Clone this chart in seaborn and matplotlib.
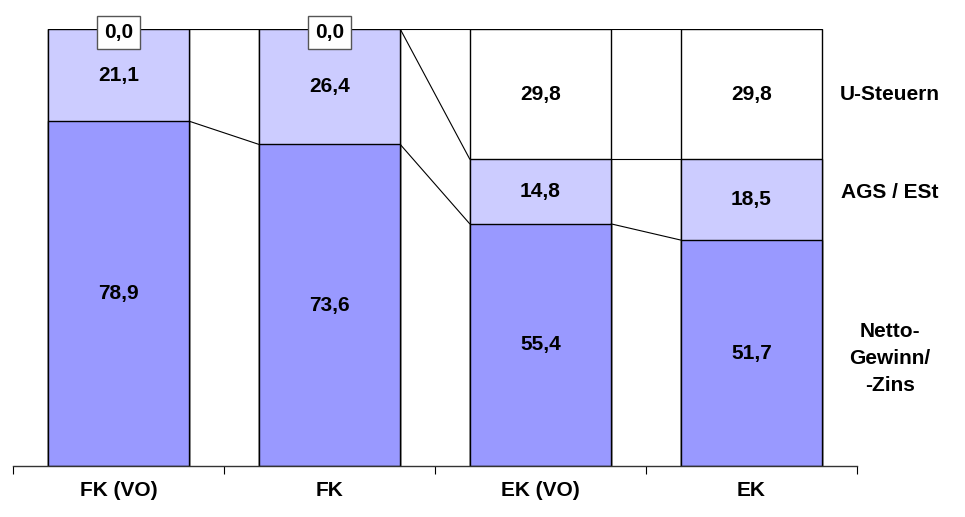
import matplotlib
matplotlib.use("Agg")
import matplotlib.pyplot as plt
import seaborn as sns
import pandas as pd

categories = ["FK (VO)", "FK", "EK (VO)", "EK"]
netto = [78.9, 73.6, 55.4, 51.7]
ags_est = [21.1, 26.4, 14.8, 18.5]
u_steuern = [0.0, 0.0, 29.8, 29.8]
series_names = ["U-Steuern", "AGS / ESt", "Netto-\nGewinn/\n-Zins"]

c_netto = "#9999FF"
c_ags = "#CCCCFF"
c_ust = "#FFFFFF"

sns.set_theme(style="white")
plt.rcParams["font.family"] = ["Liberation Sans", "DejaVu Sans"]
plt.rcParams["font.weight"] = "bold"
plt.rcParams["text.color"] = "black"

FS = 15

df = pd.DataFrame({"cat": categories, "netto": netto, "ags": ags_est, "ust": u_steuern})
df["lvl1"] = df["netto"]
df["lvl2"] = df["netto"] + df["ags"]
df["lvl3"] = df["lvl2"] + df["ust"]

fig = plt.figure(figsize=(9.65, 5.17), dpi=100)
ax = fig.add_axes([13 / 965, 51 / 517, 844 / 965, 437 / 517])

width = 0.67
# stacked bars, drawn back to front from cumulative totals
for col, color in [("lvl3", c_ust), ("lvl2", c_ags), ("lvl1", c_netto)]:
    sns.barplot(data=df, x="cat", y=col, color=color, width=width,
                edgecolor="black", linewidth=1.0, saturation=1, ax=ax)

# connector lines between neighbouring bars
half = width / 2
for i in range(len(categories) - 1):
    for col in ["lvl1", "lvl2", "lvl3"]:
        ax.plot([i + half, i + 1 - half], [df[col][i], df[col][i + 1]],
                color="black", lw=0.8, zorder=1)

fmt = lambda v: f"{v:.1f}".replace(".", ",")
for i in range(len(categories)):
    ax.text(i, netto[i] / 2, fmt(netto[i]), ha="center", va="center",
            fontsize=FS, fontweight="bold", color="black", zorder=5)
    ax.text(i, netto[i] + ags_est[i] / 2, fmt(ags_est[i]), ha="center",
            va="center", fontsize=FS, fontweight="bold", color="black", zorder=5)
    if u_steuern[i] > 0:
        ax.text(i, df["lvl2"][i] + u_steuern[i] / 2, fmt(u_steuern[i]),
                ha="center", va="center", fontsize=FS, fontweight="bold",
                color="black", zorder=5)
    else:
        ax.text(i, df["lvl3"][i] - 0.8, fmt(u_steuern[i]), ha="center",
                va="center", fontsize=FS, fontweight="bold", color="black", zorder=6,
                bbox=dict(boxstyle="square,pad=0.34", facecolor="white",
                          edgecolor="#555555", linewidth=1.0))

# series names on the right
ax.text(3.656, 84.9, series_names[0], ha="center", va="center",
        fontsize=FS, fontweight="bold", color="black", clip_on=False)
ax.text(3.656, 62.5, series_names[1], ha="center", va="center",
        fontsize=FS, fontweight="bold", color="black", clip_on=False)
ax.text(3.656, 24.6, series_names[2], ha="center", va="center",
        fontsize=FS, fontweight="bold", color="black", linespacing=1.55,
        clip_on=False)

ax.set_xlim(-0.5, 3.5)
ax.set_ylim(0, 100)
ax.margins(0)
ax.set_xlabel("")
ax.set_ylabel("")
ax.set_yticks([])
ax.set_xticks(range(len(categories)))
ax.set_xticklabels(categories, fontsize=FS, fontweight="bold", color="black")
ax.set_xticks([-0.5, 0.5, 1.5, 2.5, 3.5], minor=True)
ax.tick_params(axis="x", which="major", length=0, pad=11, labelcolor="black")
ax.tick_params(axis="x", which="minor", length=6, width=0.8, color="black",
               direction="out", bottom=True)
for s in ["left", "right", "top"]:
    ax.spines[s].set_visible(False)
ax.spines["bottom"].set_color("#333333")
ax.spines["bottom"].set_linewidth(1.0)
ax.patch.set_alpha(0)

fig.savefig("out.png", dpi=100)
